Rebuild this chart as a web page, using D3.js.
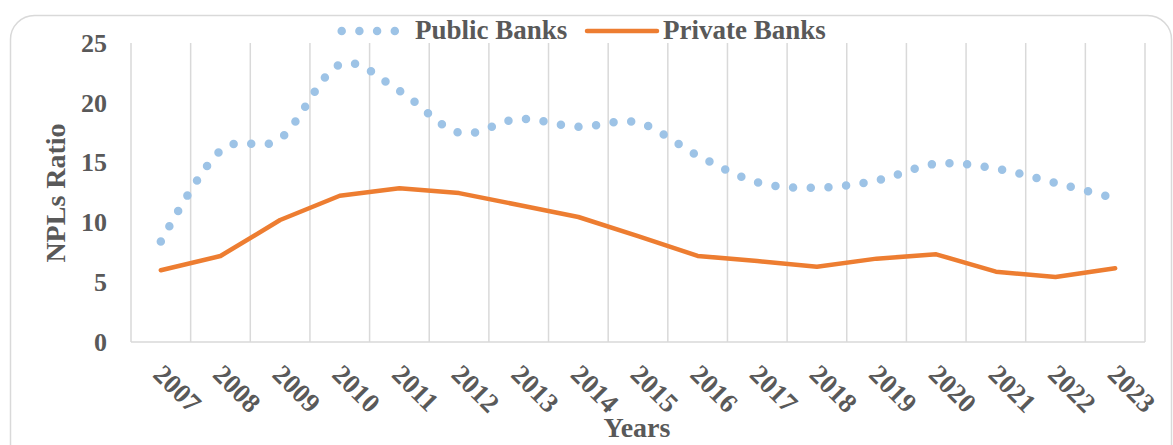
<!DOCTYPE html>
<html>
<head>
<meta charset="utf-8">
<script src="https://cdn.jsdelivr.net/npm/d3@7"></script>
<style>
  html, body { margin: 0; padding: 0; background: #ffffff; }
  svg { display: block; }
  text { font-family: "Liberation Serif", "Times New Roman", serif; font-weight: bold; fill: #595959; }
</style>
</head>
<body>
<svg id="chart" width="1173" height="445"></svg>
<script>
const years = ["2007","2008","2009","2010","2011","2012","2013","2014","2015","2016","2017","2018","2019","2020","2021","2022","2023"];
const publicBanks = [8.4, 16.0, 17.0, 23.2, 21.0, 17.5, 18.65, 18.0, 18.35, 15.6, 13.35, 12.9, 13.5, 14.9, 14.5, 13.3, 12.0];
const privateBanks = [6.0, 7.19, 10.2, 12.23, 12.85, 12.45, 11.45, 10.45, 8.86, 7.2, 6.77, 6.3, 6.97, 7.33, 5.88, 5.43, 6.16];
const yTicks = [0, 5, 10, 15, 20, 25];
const seriesNames = ["Public Banks", "Private Banks"];

const svg = d3.select("#chart");
const W = 1173, H = 445;
const plot = { left: 131, right: 1145, top: 43, bottom: 342 };

// chart border
svg.append("rect")
  .attr("x", 10.5).attr("y", 15.5)
  .attr("width", 1161).attr("height", 470)
  .attr("rx", 24).attr("ry", 24)
  .attr("fill", "none").attr("stroke", "#d9d9d9").attr("stroke-width", 1.5);

const x = d3.scaleBand().domain(years).range([plot.left, plot.right]).padding(0);
const y = d3.scaleLinear().domain([0, 25]).range([plot.bottom, plot.top]);
const cx = d => x(d) + x.bandwidth() / 2;

// vertical gridlines at category boundaries
const bounds = years.map(d => x(d)).concat([plot.right]);
svg.append("g").selectAll("line").data(bounds).join("line")
  .attr("x1", d => d).attr("x2", d => d)
  .attr("y1", plot.top).attr("y2", plot.bottom)
  .attr("stroke", "#d9d9d9").attr("stroke-width", 1.5);

// x axis line
svg.append("line")
  .attr("x1", plot.left).attr("x2", plot.right)
  .attr("y1", plot.bottom).attr("y2", plot.bottom)
  .attr("stroke", "#d9d9d9").attr("stroke-width", 1.5);

// y axis
const yAxis = svg.append("g")
  .attr("transform", `translate(${plot.left},0)`)
  .call(d3.axisLeft(y).tickValues(yTicks).tickSize(0).tickPadding(24));
yAxis.select(".domain").remove();
yAxis.selectAll("text")
  .style("font-family", '"Liberation Serif", serif')
  .style("font-weight", "bold")
  .style("font-size", "26px")
  .attr("fill", "#595959");

// x axis
const xAxis = svg.append("g")
  .attr("transform", `translate(0,${plot.bottom})`)
  .call(d3.axisBottom(x).tickSize(0));
xAxis.select(".domain").remove();
xAxis.selectAll("text")
  .style("font-family", '"Liberation Serif", serif')
  .style("font-weight", "bold")
  .style("font-size", "27px")
  .attr("fill", "#595959")
  .attr("text-anchor", "start")
  .attr("dy", 0).attr("y", 0)
  .attr("transform", "translate(-9,34) rotate(45)");

// lines
const lineSmooth = d3.line()
  .x((d, i) => cx(years[i]))
  .y(d => y(d))
  .curve(d3.curveCardinal.tension(0));
const lineStraight = d3.line()
  .x((d, i) => cx(years[i]))
  .y(d => y(d));

svg.append("path")
  .datum(privateBanks)
  .attr("d", lineStraight)
  .attr("fill", "none")
  .attr("stroke", "#ed7d31")
  .attr("stroke-width", 4.5)
  .attr("stroke-linejoin", "round")
  .attr("stroke-linecap", "round");

svg.append("path")
  .datum(publicBanks)
  .attr("d", lineSmooth)
  .attr("fill", "none")
  .attr("stroke", "#9dc3e6")
  .attr("stroke-width", 8.5)
  .attr("stroke-linecap", "round")
  .attr("stroke-dasharray", "0 17.7");

// legend
const lg = svg.append("g");
lg.append("line")
  .attr("x1", 341.7).attr("x2", 395).attr("y1", 31).attr("y2", 31)
  .attr("stroke", "#9dc3e6").attr("stroke-width", 8.5)
  .attr("stroke-linecap", "round").attr("stroke-dasharray", "0 17.7");
lg.append("text").attr("x", 415).attr("y", 39)
  .style("font-size", "27px").text(seriesNames[0]);
lg.append("line")
  .attr("x1", 587).attr("x2", 657).attr("y1", 31).attr("y2", 31)
  .attr("stroke", "#ed7d31").attr("stroke-width", 4.5).attr("stroke-linecap", "round");
lg.append("text").attr("x", 663).attr("y", 39)
  .style("font-size", "27px").text(seriesNames[1]);

// axis titles
svg.append("text")
  .attr("transform", "translate(65,193) rotate(-90)")
  .attr("text-anchor", "middle")
  .style("font-size", "28px").text("NPLs Ratio");
svg.append("text")
  .attr("x", 637).attr("y", 437)
  .attr("text-anchor", "middle")
  .style("font-size", "28px").text("Years");
</script>
</body>
</html>
